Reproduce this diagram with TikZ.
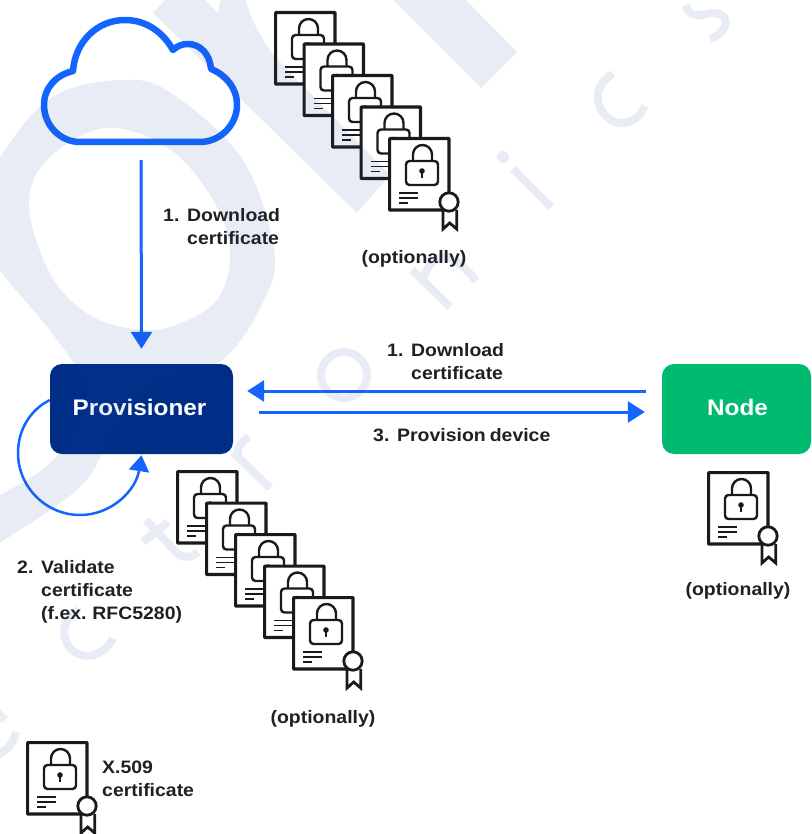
\documentclass[tikz,border=0pt]{standalone}
\usepackage{fontspec}
\setmainfont{Liberation Sans}[FakeStretch=1.08,WordSpace=0.75]
\usetikzlibrary{arrows.meta}
\definecolor{arrowblue}{RGB}{20,100,255}
\definecolor{navybox}{RGB}{0,46,135}
\definecolor{greenbox}{RGB}{0,186,112}
\definecolor{inkdark}{RGB}{35,31,32}
\definecolor{certink}{RGB}{26,26,26}
\definecolor{wmark}{RGB}{25,75,155}
\tikzset{
  boxnode/.style={rounded corners=12pt,inner sep=0pt,minimum height=90pt},
  boxtext/.style={anchor=base,text=white,inner sep=0pt,font=\fontsize{22.5}{28}\selectfont\bfseries},
  lbl/.style={inner sep=0pt,text=inkdark,align=left,font=\fontsize{18}{23}\selectfont\bfseries},
  arr/.style={draw=arrowblue,line width=3pt,-{Triangle[length=17pt,width=21pt]}},
  wm/.style={fill=wmark},
  wms/.style={draw=wmark,line width=8pt},
  certline/.style={draw=certink,line width=2.4pt}
}
\newcommand{\certicon}[2]{%
  \begin{scope}[shift={(#1,#2)}]
    \draw[draw=certink,line width=3.2pt,fill=white,rounded corners=.6pt] (1.6,1.6) rectangle (61,73);
    \draw[certline,rounded corners=3.5pt] (18,24) rectangle (50,48);
    \draw[certline] (25,24) -- (25,17.5) .. controls (25,12.2) and (29.3,8) .. (34.5,8) .. controls (39.7,8) and (44,12.2) .. (44,17.5) -- (44,24);
    \fill[certink] (34,34) circle (2.8pt);
    \draw[draw=certink,line width=2pt] (34,34) -- (34,41);
    \draw[draw=certink,line width=1.8pt] (11,56) -- (30,56) (11,61) -- (30,61) (11,66) -- (20,66);
    \draw[draw=certink,line width=2.8pt,fill=white,line join=miter] (55,73) -- (55,92) -- (61.7,86) -- (68.7,92) -- (68.7,73);
    \draw[draw=certink,line width=2.8pt,fill=white] (61,65) circle (9.2pt);
  \end{scope}}
\begin{document}
\begin{tikzpicture}[x=1pt,y=-1pt]
\useasboundingbox (0,0) rectangle (811,834);
% cloud
\draw[draw=arrowblue,line width=6.5pt,line join=round]
  (80,142) -- (200,142) .. controls (220,142) and (237,125) .. (237,105)
  .. controls (237,88) and (226,75) .. (211,69)
  .. controls (210,54) and (200,44) .. (188,44)
  .. controls (182,44) and (177,46) .. (173,50)
  .. controls (163,32) and (146,20) .. (125,20)
  .. controls (97,20) and (75,42) .. (73,71)
  .. controls (56,75) and (44,88) .. (44,105)
  .. controls (44,125) and (60,142) .. (80,142) -- cycle;
\coordinate (cloudbottom) at (141,160);
% boxes
\node[boxnode,fill=navybox,minimum width=183pt] (prov) at (141.5,409) {};
\node[boxnode,fill=greenbox,minimum width=149pt] (nodebox) at (736.5,409) {};
\node[boxtext] (provtxt) at (139.5,415) {Provisioner};
\node[boxtext] (nodetxt) at (737.5,415) {Node};
% connectors
\draw[arr] (cloudbottom) -- ([yshift=15pt]prov.north);
\draw[arr] ([xshift=-16pt,yshift=18pt]nodebox.west) -- ([xshift=14pt,yshift=18pt]prov.east);
\draw[arr] ([xshift=26pt,yshift=-3pt]prov.east) -- ([xshift=-17pt,yshift=-3pt]nodebox.west);
\coordinate (loopstart) at ([yshift=9pt]prov.west);
\draw[draw=arrowblue,line width=2.5pt,-{Triangle[length=16pt,width=20pt]}]
  (loopstart) .. controls (30,410) and (18,430) .. (18,453)
  .. controls (18,487) and (46,515) .. (80,515)
  .. controls (112,515) and (136,490) .. ([yshift=-1pt]prov.south);
% certificates
\foreach \k in {0,...,4}{\certicon{274+28.5*\k}{11+31.5*\k}}
\foreach \k in {0,...,4}{\certicon{176+29*\k}{470+31.5*\k}}
\certicon{707}{471}
\certicon{26}{741}
% labels (a many-line node's base is its last line)
\node[lbl,anchor=base west] (l1) at (163,244) {\makebox[24pt][l]{1.}Download\\\hspace*{24pt}certificate};
\node[lbl,anchor=base west] (l2) at (387,379) {\makebox[24pt][l]{1.}Download\\\hspace*{24pt}certificate};
\node[lbl,anchor=base west] (l3) at (373,441) {\makebox[24pt][l]{3.}Provision device};
\node[lbl,anchor=base west] (l4) at (17,619) {\makebox[24pt][l]{2.}Validate\\\hspace*{24pt}certificate\\\hspace*{24pt}(f.ex. RFC5280)};
\node[lbl,anchor=base west] (l5) at (102,796) {X.509\\certificate};
\node[lbl,anchor=base] (o1) at (414,263) {(optionally)};
\node[lbl,anchor=base] (o2) at (323,723) {(optionally)};
\node[lbl,anchor=base] (o3) at (738,595) {(optionally)};
% watermark, laid over everything
\begin{scope}[transparency group,opacity=.1]
\clip (0,0) rectangle (811,834);
\fill[wm,even odd rule]
  plot[smooth cycle,tension=.6] coordinates {(-30,215) (0,157) (52,97) (122,80) (171,93) (243,160) (274,250) (264,300) (222,360) (150,385) (113,433) (80,487) (0,543) (-40,570) (-40,510) (0,495) (50,463) (80,420) (85,385) (52,333) (0,270)}
  plot[smooth cycle,tension=.6] coordinates {(29,207) (47,160) (106,128) (171,150) (217,207) (230,257) (217,300) (181,323) (145,330) (93,317) (52,277)};
\fill[wm] (153,13) -- (165,0) -- (205,0) -- (218,13) -- (220,0) -- (246,0) .. controls (250,20) and (262,38) .. (273,55) -- (390,175) -- (357,213) -- cycle;
\fill[wm] (393,0) -- (481,88) -- (517,52) -- (466,0) -- cycle;
\draw[wms] (686,5) .. controls (688,15) and (697,17) .. (706,14) .. controls (720,10) and (730,18) .. (724,28) .. controls (721,34) and (716,37) .. (710,39);
\draw[wms] (613,74) .. controls (597,82) and (592,102) .. (606,116) .. controls (620,130) and (638,122) .. (645,106);
\fill[wm] (503,157) circle (6pt);
\draw[wms] (513,169) -- (551,207);
\draw[wms] (412,270) -- (450,307);
\draw[wms] (423,282) .. controls (428,255) and (448,244) .. (476,281);
\draw[wms] (344,375) circle (23pt);
\draw[wms] (233,452) -- (270,488);
\draw[wms] (238,457) .. controls (236,450) and (240,442) .. (249,437);
\draw[wms] (146,520) -- (176,552) .. controls (183,559) and (192,558) .. (198,552);
\draw[wms] (143,542) -- (168,522);
\draw[wms] (78,610) .. controls (62,618) and (60,638) .. (72,650) .. controls (86,662) and (106,654) .. (113,638);
\draw[wms] (-3,712) -- (5,720);
\draw[wms] (16,732) .. controls (14,742) and (8,750) .. (-3,755);
\end{scope}
\end{tikzpicture}
\end{document}
